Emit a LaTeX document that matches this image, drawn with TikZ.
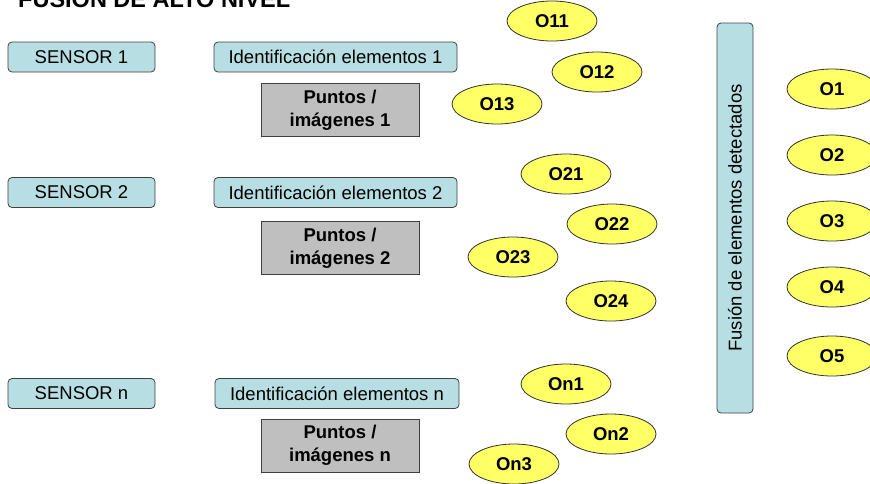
\documentclass[tikz,border=0pt]{standalone}
\usepackage{fontspec}
\setmainfont{Liberation Sans}
\usetikzlibrary{shapes.geometric}
\definecolor{lblue}{RGB}{183,222,226}
\definecolor{gbox}{RGB}{191,191,191}
\definecolor{yel}{RGB}{255,255,102}
\begin{document}
\begin{tikzpicture}[x=1pt,y=-1pt,
  bluebox/.style={draw=black!75, line width=0.8pt, fill=lblue, rounded corners=4pt, minimum height=30pt, inner sep=0pt, font=\fontsize{18.5}{20}\selectfont},
  graybox/.style={draw=black!75, line width=0.8pt, fill=gbox, minimum width=158pt, minimum height=53pt, inner sep=0pt, align=center, font=\bfseries\fontsize{18.5}{23}\selectfont},
  obj/.style={ellipse, draw=black!80, line width=0.8pt, fill=yel, minimum width=90pt, minimum height=40pt, inner sep=0pt, font=\bfseries\fontsize{18.5}{20}\selectfont}]
\useasboundingbox (0,0) rectangle (870,483);
\node[anchor=base west, font=\bfseries\fontsize{23.5}{26}\selectfont, inner sep=0pt] (title) at (18,7) {FUSIÓN DE ALTO NIVEL};
% sensors
\node[bluebox, minimum width=147pt] (s1) at (81.5,57) {SENSOR 1};
\node[bluebox, minimum width=147pt] (s2) at (81.5,192.5) {SENSOR 2};
\node[bluebox, minimum width=147pt] (sn) at (81.5,393.5) {SENSOR n};
% identification
\node[bluebox, minimum width=243pt] (i1) at (335.5,57) {Identificación elementos 1};
\node[bluebox, minimum width=243pt] (i2) at (335.5,192.5) {Identificación elementos 2};
\node[bluebox, minimum width=244pt] (in) at (337,393.5) {Identificación elementos n};
% points
\node[graybox] (p1) at (340,110) {Puntos /\\imágenes 1};
\node[graybox] (p2) at (340,248) {Puntos /\\imágenes 2};
\node[graybox] (pn) at (340,445.5) {Puntos /\\imágenes n};
% fusion
\node[bluebox, rotate=90, minimum width=390pt, minimum height=36pt] (fus) at (735,218) {Fusión de elementos detectados};
% objects
\node[obj] (o11) at (552,21) {O11};
\node[obj] (o12) at (597,72) {O12};
\node[obj] (o13) at (497,104) {O13};
\node[obj] (o21) at (566,174) {O21};
\node[obj] (o22) at (612,224) {O22};
\node[obj] (o23) at (513,257) {O23};
\node[obj] (o24) at (611,301) {O24};
\node[obj] (on1) at (566,384) {On1};
\node[obj] (on2) at (611,434) {On2};
\node[obj] (on3) at (514,464) {On3};
\node[obj] (o1) at (832,89) {O1};
\node[obj] (o2) at (832,155) {O2};
\node[obj] (o3) at (832,221) {O3};
\node[obj] (o4) at (832,287) {O4};
\node[obj] (o5) at (832,356) {O5};
\end{tikzpicture}
\end{document}
